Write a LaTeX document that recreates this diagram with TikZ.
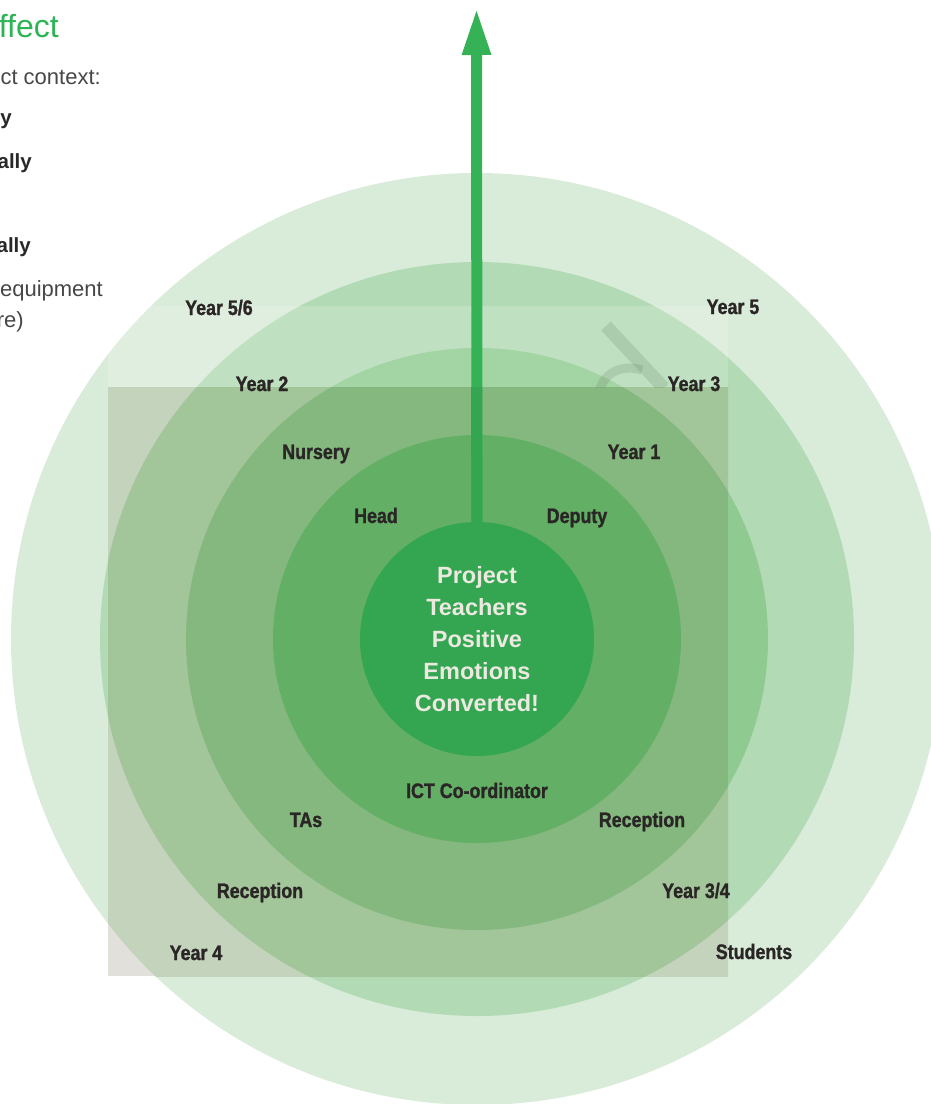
\documentclass[tikz,border=0pt]{standalone}
\usepackage{fontspec}
\setmainfont{Liberation Sans}
\newfontfamily\condfont[FakeStretch=0.85,FakeBold=1.2]{Liberation Sans Bold}
\usetikzlibrary{arrows.meta}
\definecolor{cAout}{RGB}{217,235,217}
\definecolor{cBout}{RGB}{178,219,181}
\definecolor{cCout}{RGB}{143,203,145}
\definecolor{cAin}{RGB}{195,211,188}
\definecolor{cBin}{RGB}{163,197,154}
\definecolor{cCin}{RGB}{132,184,126}
\definecolor{cD}{RGB}{98,175,101}
\definecolor{cE}{RGB}{52,165,81}
\definecolor{rectbase}{RGB}{226,224,218}
\definecolor{arrowcol}{RGB}{52,178,85}
\definecolor{labtext}{RGB}{42,38,38}
\definecolor{coretext}{RGB}{236,233,224}
\definecolor{titlegreen}{RGB}{45,180,86}
\definecolor{bodygray}{RGB}{70,70,70}
\definecolor{bodydark}{RGB}{40,40,40}
\definecolor{ghostcol}{RGB}{100,130,100}
\begin{document}
\begin{tikzpicture}[x=1pt,y=-1pt,
  lab/.style={anchor=base, inner sep=0pt, text=labtext, font=\condfont\fontsize{21}{21}\selectfont},
  sidereg/.style={anchor=base east, inner sep=0pt, text=bodygray, font=\fontsize{22}{22}\selectfont},
  sidebold/.style={anchor=base east, inner sep=0pt, text=bodydark, font=\bfseries\fontsize{20.5}{20.5}\selectfont},
  ghost/.style={draw=ghostcol, opacity=0.22, line width=13pt},
  bigarrow/.style={draw=arrowcol, line width=11pt, -{Triangle[width=26pt,length=48pt]}}
]
\useasboundingbox (0,0) rectangle (931,1104);
\coordinate (C) at (477,639);
\begin{scope}
\clip (0,0) rectangle (931,1104);
\fill[cAout] (C) circle[radius=466];
\fill[cBout] (C) circle[radius=377];
\fill[cCout] (C) circle[radius=291];
\fill[rectbase] (108,387) rectangle (728,976);
\begin{scope}
\clip (108,387) rectangle (728,976);
\fill[cAin] (C) circle[radius=466];
\fill[cBin] (C) circle[radius=377];
\fill[cCin] (C) circle[radius=291];
\end{scope}
\fill[white,opacity=0.18] (108,306) rectangle (728,387);
\fill[cD] (C) circle[radius=204];
\begin{scope}
\clip (0,0) rectangle (931,387);
\draw[ghost] (606,326) -- (664,388);
\draw[ghost, line width=9pt] (599,392) .. controls (604,372) and (622,364) .. (642,370);
\end{scope}
\node[circle, fill=cE, minimum size=234pt, inner sep=0pt, text=coretext, align=center,
  font=\bfseries\fontsize{23.5}{32}\selectfont] (core) at (C)
  {Project\\Teachers\\Positive\\Emotions\\Converted!};
\coordinate (tip) at (476.5,7);
\coordinate (rectedge) at (476.5,387);
\draw[bigarrow] (core.north) -- (tip);
\draw[draw=cE, line width=11pt] (core.north) -- (rectedge);
\end{scope}
% labels
\node[lab] (y56) at (219,315) {Year 5/6};
\node[lab] (y5) at (733,314) {Year 5};
\node[lab] (y2) at (262,391) {Year 2};
\node[lab] (y3) at (694,391) {Year 3};
\node[lab] (nur) at (316,459) {Nursery};
\node[lab] (y1) at (634,459) {Year 1};
\node[lab] (head) at (376,523) {Head};
\node[lab] (dep) at (577,523) {Deputy};
\node[lab] (ict) at (477,798) {ICT Co-ordinator};
\node[lab] (tas) at (306,827) {TAs};
\node[lab] (rec1) at (642,827) {Reception};
\node[lab] (rec2) at (260,898) {Reception};
\node[lab] (y34) at (696,898) {Year 3/4};
\node[lab] (y4) at (196,960) {Year 4};
\node[lab] (stu) at (754,959) {Students};
% side text
\node[anchor=base east, inner sep=0pt, text=titlegreen, font=\fontsize{32}{32}\selectfont] (title) at (59,37) {ffect};
\node[sidereg] (t1) at (101,84) {ct context:};
\node[sidebold] (t2) at (12,124) {y};
\node[sidebold] (t3) at (32,168) {ally};
\node[sidebold] (t4) at (31,252) {ally};
\node[sidereg] (t5) at (103,296) {equipment};
\node[sidereg] (t6) at (24,327) {re)};
\end{tikzpicture}
\end{document}
